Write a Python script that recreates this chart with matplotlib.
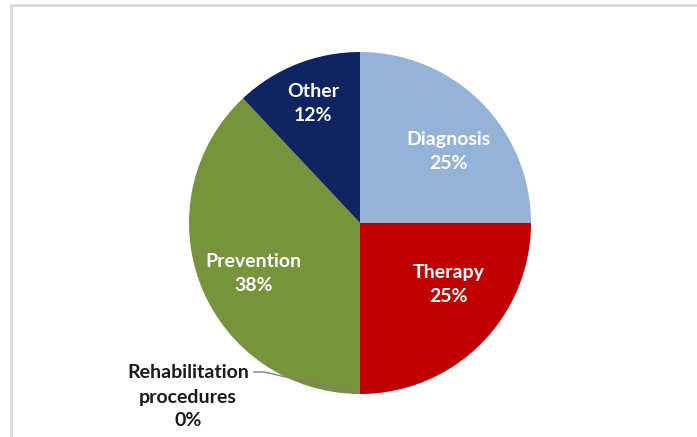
import numpy as np
import matplotlib
matplotlib.use("Agg")
import matplotlib.pyplot as plt
from matplotlib.patches import Rectangle

categories = ["Diagnosis", "Therapy", "Rehabilitation\nprocedures", "Prevention", "Other"]
shares = [25, 25, 0, 38, 12]
colors = ["#95B3D7", "#C00000", "#4F6228", "#77933C", "#0F2461"]

W, H = 697, 437
fig = plt.figure(figsize=(W / 100, H / 100), dpi=100)
ax = fig.add_axes([0, 0, 1, 1])

center = (360, H - 223)
radius = 171
wedges, _ = ax.pie(shares, colors=colors, startangle=90, counterclock=False,
                   center=center, radius=radius, frame=True,
                   wedgeprops=dict(linewidth=0))
ax.set_xlim(0, W)
ax.set_ylim(0, H)
ax.set_aspect("equal")
ax.set_axis_off()

# chart area frame
ax.add_patch(Rectangle((11, -10), W + 20, H - 5 + 10, fill=False,
                       edgecolor="#D9D9D9", linewidth=2))

font = dict(family=["Lato", "DejaVu Sans"], fontweight="bold", fontsize=14)
label_dist = [0.665, 0.63, None, 0.69, 0.75]
angle_shift = [-6, 10, 0, 4, 0]
for w, name, v, d, s in zip(wedges, categories, shares, label_dist, angle_shift):
    if d is None:
        continue
    mid = np.deg2rad((w.theta1 + w.theta2) / 2 + s)
    x = center[0] + d * radius * np.cos(mid)
    y = center[1] + d * radius * np.sin(mid)
    ax.text(x, y, f"{name}\n{v}%", ha="center", va="center", color="white",
            linespacing=1.5, **font)

# small slice label with leader line
rw = wedges[2]
edge_ang = np.deg2rad(rw.theta1)
ex = center[0] + radius * np.cos(edge_ang) - 4
ey = center[1] + radius * np.sin(edge_ang) + 1
ax.plot([254, 264, ex], [H - 372, H - 372, ey], color="#7F7F7F", linewidth=1)
ax.text(188, H - 397, f"{categories[2]}\n{shares[2]}%", ha="center", va="center",
        color="#1A1A1A", linespacing=1.5, **font)

fig.savefig("out.png", dpi=100)
